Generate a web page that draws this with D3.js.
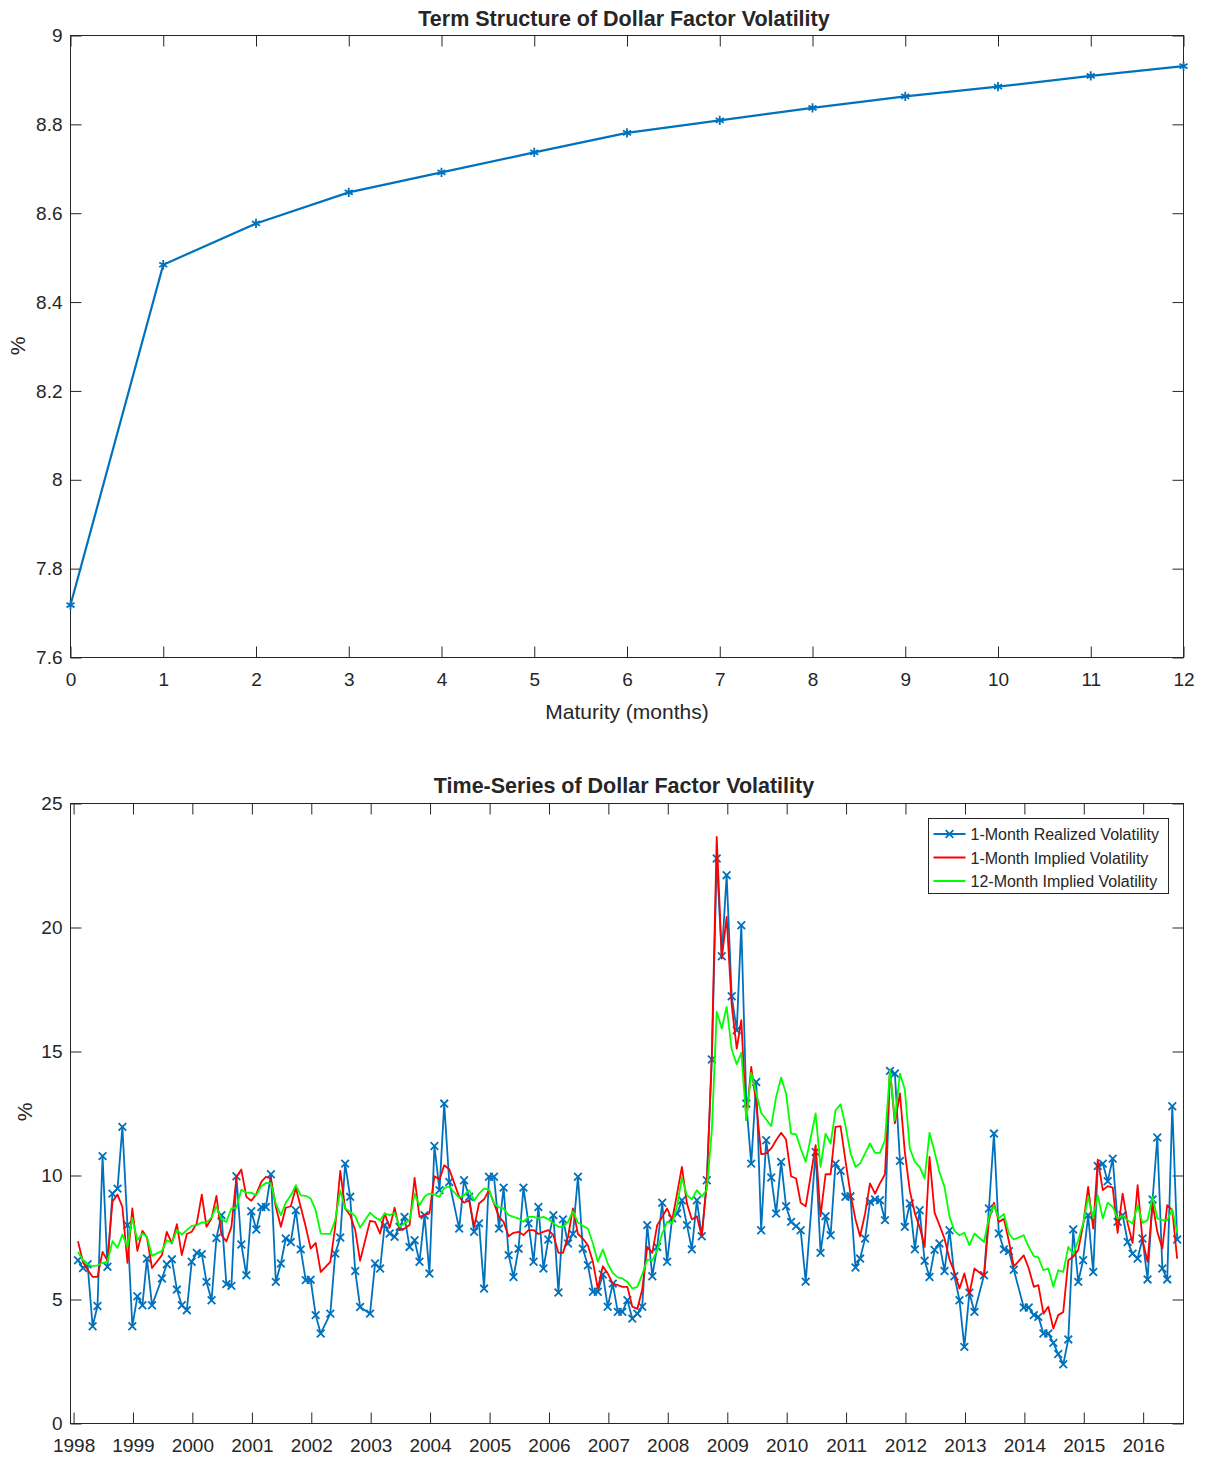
<!DOCTYPE html>
<html><head><meta charset="utf-8">
<script src="https://cdn.jsdelivr.net/npm/d3@7"></script>
<style>
body{margin:0;background:#fff}
svg text{font-family:"Liberation Sans",Arial,Helvetica,sans-serif;fill:#262626}
</style>
</head><body>
<svg id="c" width="1208" height="1461"></svg>
<script>
// ---------- Top chart data ----------
const maturities = [0,1,2,3,4,5,6,7,8,9,10,11,12];
const termVol = [7.718,8.484,8.577,8.647,8.692,8.737,8.781,8.809,8.837,8.863,8.885,8.909,8.931];
const topYTicks = [7.6,7.8,8,8.2,8.4,8.6,8.8,9];

// ---------- Bottom chart data (monthly, Jan 1998 - Jul 2016) ----------
const firstMonth = "1998-01";
const lastMonth = "2016-07";
const missingMonths = ["1999-05","2002-03","2002-11","2004-05","2010-05","2013-03","2013-11"];
const yearTicks = [1998,1999,2000,2001,2002,2003,2004,2005,2006,2007,2008,2009,2010,2011,2012,2013,2014,2015,2016];
const bottomYTicks = [0,5,10,15,20,25];
const seriesNames = ["1-Month Realized Volatility","1-Month Implied Volatility","12-Month Implied Volatility"];

const realized1M = [
6.58,6.27,6.42,3.92,4.74,10.78,6.32,9.27,9.47,11.96,8.0,3.92,5.13,4.77,6.65,4.77,
5.85,6.42,6.62,5.40,4.77,4.57,6.52,6.88,6.83,5.71,4.97,7.48,8.4,5.62,5.55,9.97,7.22,5.98,8.56,7.82,8.73,8.73,10.05,5.71,6.45,7.46,7.32,8.6,7.02,5.78,5.8,4.37,3.63,
4.43,6.85,7.5,10.48,9.14,6.15,4.7,
4.43,6.45,6.25,8.0,7.66,7.53,7.93,8.33,7.12,7.39,6.52,8.4,6.05,11.19,9.41,12.9,9.74,
7.86,9.81,9.14,7.73,8.07,5.44,9.95,9.95,7.86,9.51,6.79,5.91,7.05,9.51,8.07,6.52,8.73,6.25,7.42,8.4,5.28,8.23,7.26,7.64,9.95,7.05,6.38,5.31,5.31,6.01,4.71,5.64,4.5,4.5,4.97,4.23,4.43,4.71,8.0,5.94,7.12,8.9,6.52,8.27,8.47,9.0,8.0,7.02,9.0,7.55,9.81,14.68,22.78,18.84,22.11,17.23,15.86,20.09,12.9,10.48,13.77,7.79,11.42,9.92,8.47,10.55,8.76,8.13,7.96,7.79,5.72,
10.95,6.88,8.36,7.59,10.48,10.19,9.14,9.16,6.29,6.65,7.46,8.94,9.03,9.0,8.2,14.22,14.11,10.59,7.93,8.87,7.02,8.6,6.56,5.91,7.0,7.26,6.15,7.79,5.94,4.97,3.09,5.27,4.5,
5.98,8.67,11.69,7.66,7.02,6.95,6.2,
4.68,4.68,4.37,4.3,3.63,3.63,3.25,2.8,2.39,3.39,7.82,5.71,6.58,8.4,6.11,10.38,10.48,9.77,10.68,8.13,8.4,7.32,6.85,6.65,7.46,5.81,9.03,11.53,6.25,5.81,12.79,7.42
];
const implied1M = [
7.35,6.5,6.2,5.91,5.91,6.92,6.58,8.94,9.23,8.73,6.48,8.67,6.96,7.77,7.5,6.27,
6.79,7.73,7.26,8.04,6.79,7.64,7.73,8.07,9.23,7.93,8.27,9.18,7.6,7.34,7.93,9.95,10.24,9.14,8.98,9.25,9.74,9.95,9.88,8.73,7.93,8.7,8.76,9.51,8.73,7.93,7.05,7.28,6.11,
6.52,7.93,10.19,8.67,8.4,7.8,6.56,
8.17,8.13,7.66,8.47,7.9,8.7,7.8,7.86,8.0,9.9,8.33,8.4,8.47,9.97,9.84,10.41,10.25,
9.14,8.9,9.0,7.93,8.87,9.04,9.41,8.87,8.33,8.13,7.55,7.69,7.73,7.6,7.8,7.8,7.64,7.73,7.8,7.6,6.88,6.88,7.53,8.67,7.64,7.46,7.19,6.52,5.44,6.34,6.05,5.64,5.58,5.51,5.51,4.71,4.62,5.4,7.12,6.88,8.0,8.33,8.67,8.2,9.3,10.35,8.87,8.23,8.36,7.55,9.68,14.92,23.65,18.75,20.43,16.87,15.12,16.26,12.23,14.38,12.9,10.86,10.89,11.09,11.42,11.72,11.45,9.97,9.88,8.9,8.76,
11.22,8.36,10.05,10.05,11.96,11.99,10.61,9.27,8.23,7.55,8.47,9.68,9.27,9.68,10.05,14.27,12.1,13.31,10.95,9.38,8.47,7.93,7.12,10.75,8.5,8.0,7.46,6.61,6.11,5.44,6.05,5.21,6.25,
5.94,8.2,8.9,8.13,8.25,7.35,6.33,
6.78,6.25,5.51,5.58,4.43,4.71,3.83,4.37,4.5,6.58,6.72,7.0,8.0,9.54,7.86,10.64,9.41,9.57,9.51,7.69,9.27,8.06,7.28,9.61,7.39,6.52,8.87,7.73,7.06,8.8,8.6,6.65
];
const implied12M = [
6.92,6.58,6.42,6.35,6.38,6.48,6.52,7.35,7.08,7.62,7.12,8.29,7.39,7.66,7.53,6.76,
6.96,7.39,7.28,7.8,7.62,7.8,7.97,8.0,8.11,8.1,8.31,8.76,8.23,8.13,8.67,8.7,9.43,9.31,9.31,9.2,9.57,9.7,9.68,8.87,8.4,8.9,9.2,9.61,9.2,9.18,9.07,8.6,7.66,
7.65,8.2,9.41,8.67,8.54,8.36,7.9,
8.5,8.31,8.2,8.47,8.4,8.5,7.93,8.07,8.2,9.27,8.8,9.14,9.27,9.23,9.14,9.5,9.55,
9.1,9.2,9.41,8.98,9.27,9.47,9.43,8.87,8.71,8.67,8.4,8.33,8.27,8.13,8.33,8.33,8.27,8.33,8.23,8.07,7.93,7.93,8.13,8.56,8.1,7.97,7.86,7.26,6.52,7.02,6.45,6.07,5.89,5.85,5.71,5.44,5.51,6.0,6.61,6.58,6.98,7.66,8.13,8.07,8.8,9.92,9.2,9.04,9.41,9.16,9.41,11.83,16.6,15.93,16.8,15.08,14.49,14.95,12.23,14.14,13.31,12.53,12.26,11.99,13.17,13.95,13.31,11.69,11.66,11.09,10.55,
12.5,10.35,11.69,11.29,12.63,12.87,12.02,10.91,10.35,10.48,10.89,11.29,10.91,10.91,11.42,14.25,12.23,14.11,13.47,11.09,10.55,10.35,9.88,11.72,10.95,10.14,9.54,8.33,7.77,7.59,7.69,7.19,7.66,
7.32,8.3,8.8,8.27,8.45,7.65,7.42,
7.59,7.12,6.75,6.7,6.18,6.25,5.51,6.18,6.11,7.12,6.83,7.39,8.06,9.14,8.27,9.2,8.27,8.9,8.74,8.27,8.37,8.2,8.06,8.8,8.09,8.2,9.14,8.27,8.2,8.2,8.63,7.69
];

// ---------- build ----------
const svg = d3.select("#c");
const axisColor = "#262626";
const tickFont = 19;

function styleAxis(g){
  g.selectAll(".domain").remove();
  g.selectAll(".tick line").attr("stroke", axisColor).attr("stroke-width", 1);
  g.selectAll(".tick text").attr("font-size", tickFont).attr("fill", axisColor)
    .style("font-family", '"Liberation Sans",Arial,sans-serif');
}
function box(x0,y0,x1,y1){
  svg.append("rect").attr("x",x0).attr("y",y0).attr("width",x1-x0).attr("height",y1-y0)
    .attr("fill","none").attr("stroke",axisColor).attr("stroke-width",1);
}

// ===== Top chart =====
const T = {l:70.5, r:1183.5, t:35.5, b:657.5};
const xT = d3.scaleLinear().domain([0,12]).range([T.l, T.r]);
const yT = d3.scaleLinear().domain([7.6,9]).range([T.b, T.t]);

svg.append("g").attr("transform",`translate(0,${T.b})`)
  .call(d3.axisBottom(xT).tickValues(maturities).tickFormat(d3.format("d")).tickSizeInner(-11).tickSizeOuter(0).tickPadding(15))
  .call(styleAxis);
svg.append("g").attr("transform",`translate(0,${T.t})`)
  .call(d3.axisTop(xT).tickValues(maturities).tickFormat("").tickSizeInner(-11).tickSizeOuter(0))
  .call(styleAxis);
svg.append("g").attr("transform",`translate(${T.l},0)`)
  .call(d3.axisLeft(yT).tickValues(topYTicks).tickFormat(d => d3.format("")(+d.toFixed(1))).tickSizeInner(-11).tickSizeOuter(0).tickPadding(8))
  .call(styleAxis);
svg.append("g").attr("transform",`translate(${T.r},0)`)
  .call(d3.axisRight(yT).tickValues(topYTicks).tickFormat("").tickSizeInner(-11).tickSizeOuter(0))
  .call(styleAxis);
box(T.l,T.t,T.r,T.b);

const topData = maturities.map((m,i)=>({m, v:termVol[i]}));
svg.append("path").datum(topData)
  .attr("fill","none").attr("stroke","#0072BD").attr("stroke-width",2.2)
  .attr("d", d3.line().x(d=>xT(d.m)).y(d=>yT(d.v)));
const star = d3.symbol().type(d3.symbolAsterisk).size(60);
svg.append("g").selectAll("path").data(topData).join("path")
  .attr("transform", d=>`translate(${xT(d.m)},${yT(d.v)})`)
  .attr("d", star).attr("fill","none").attr("stroke","#0072BD").attr("stroke-width",1.8);

svg.append("text").attr("x",624).attr("y",26).attr("text-anchor","middle")
  .attr("font-size",21.5).attr("font-weight","bold").attr("fill","#000")
  .text("Term Structure of Dollar Factor Volatility");
svg.append("text").attr("x",(T.l+T.r)/2).attr("y",719).attr("text-anchor","middle")
  .attr("font-size",21).text("Maturity (months)");
svg.append("text").attr("transform",`translate(25,346) rotate(-90)`).attr("text-anchor","middle")
  .attr("font-size",21).text("%");

// ===== Bottom chart =====
const B = {l:70.5, r:1183.5, t:803.5, b:1423.5};
const parseMonth = d3.timeParse("%Y-%m");
const fmtMonth = d3.timeFormat("%Y-%m");
const allMonths = d3.timeMonth.range(parseMonth(firstMonth), d3.timeMonth.offset(parseMonth(lastMonth),1));
const months = allMonths.filter(m => !missingMonths.includes(fmtMonth(m)));
const dates = months.map(m => new Date(m.getFullYear(), m.getMonth(), 28));

const xB = d3.scaleTime().domain([new Date(1997,11,13), new Date(2016,8,5)]).range([B.l, B.r]);
const yB = d3.scaleLinear().domain([0,25]).range([B.b, B.t]);
const yearDates = yearTicks.map(y => new Date(y,0,1));

svg.append("g").attr("transform",`translate(0,${B.b})`)
  .call(d3.axisBottom(xB).tickValues(yearDates).tickFormat(d3.timeFormat("%Y")).tickSizeInner(-11).tickSizeOuter(0).tickPadding(15))
  .call(styleAxis);
svg.append("g").attr("transform",`translate(0,${B.t})`)
  .call(d3.axisTop(xB).tickValues(yearDates).tickFormat("").tickSizeInner(-11).tickSizeOuter(0))
  .call(styleAxis);
svg.append("g").attr("transform",`translate(${B.l},0)`)
  .call(d3.axisLeft(yB).tickValues(bottomYTicks).tickFormat(d3.format("d")).tickSizeInner(-11).tickSizeOuter(0).tickPadding(8))
  .call(styleAxis);
svg.append("g").attr("transform",`translate(${B.r},0)`)
  .call(d3.axisRight(yB).tickValues(bottomYTicks).tickFormat("").tickSizeInner(-11).tickSizeOuter(0))
  .call(styleAxis);
box(B.l,B.t,B.r,B.b);

const series = [
  {name:seriesNames[0], vals:realized1M, color:"#0072BD", marker:true},
  {name:seriesNames[1], vals:implied1M, color:"#FF0000", marker:false},
  {name:seriesNames[2], vals:implied12M, color:"#00FF00", marker:false}
];
const lineB = d3.line().x(d=>xB(d.date)).y(d=>yB(d.v));
const plotG = svg.append("g");
series.forEach(s=>{
  const data = dates.map((d,i)=>({date:d, v:s.vals[i]})).filter(d=>d.v!=null);
  plotG.append("path").datum(data).attr("fill","none").attr("stroke",s.color)
    .attr("stroke-width",1.8).attr("stroke-linejoin","round").attr("d",lineB);
  if(s.marker){
    const cross = d3.symbol().type(d3.symbolTimes).size(40);
    plotG.append("g").selectAll("path").data(data).join("path")
      .attr("transform",d=>`translate(${xB(d.date)},${yB(d.v)})`)
      .attr("d",cross).attr("fill","none").attr("stroke",s.color).attr("stroke-width",1.8);
  }
});

svg.append("text").attr("x",624).attr("y",793).attr("text-anchor","middle")
  .attr("font-size",21.5).attr("font-weight","bold").attr("fill","#000")
  .text("Time-Series of Dollar Factor Volatility");
svg.append("text").attr("transform",`translate(32,1112) rotate(-90)`).attr("text-anchor","middle")
  .attr("font-size",21).text("%");

// legend
const L = {x:928.5, y:818.5, w:240, h:75};
const lg = svg.append("g");
lg.append("rect").attr("x",L.x).attr("y",L.y).attr("width",L.w).attr("height",L.h)
  .attr("fill","#fff").attr("stroke",axisColor).attr("stroke-width",1);
series.forEach((s,i)=>{
  const yy = L.y + 15.5 + i*23.5;
  lg.append("line").attr("x1",L.x+5).attr("x2",L.x+37).attr("y1",yy).attr("y2",yy)
    .attr("stroke",s.color).attr("stroke-width",1.8);
  if(s.marker){
    lg.append("path").attr("transform",`translate(${L.x+21},${yy})`)
      .attr("d",d3.symbol().type(d3.symbolTimes).size(40)).attr("fill","none")
      .attr("stroke",s.color).attr("stroke-width",1.8);
  }
  lg.append("text").attr("x",L.x+42).attr("y",yy+6).attr("font-size",16).attr("fill","#000").text(s.name);
});
</script>
</body></html>
